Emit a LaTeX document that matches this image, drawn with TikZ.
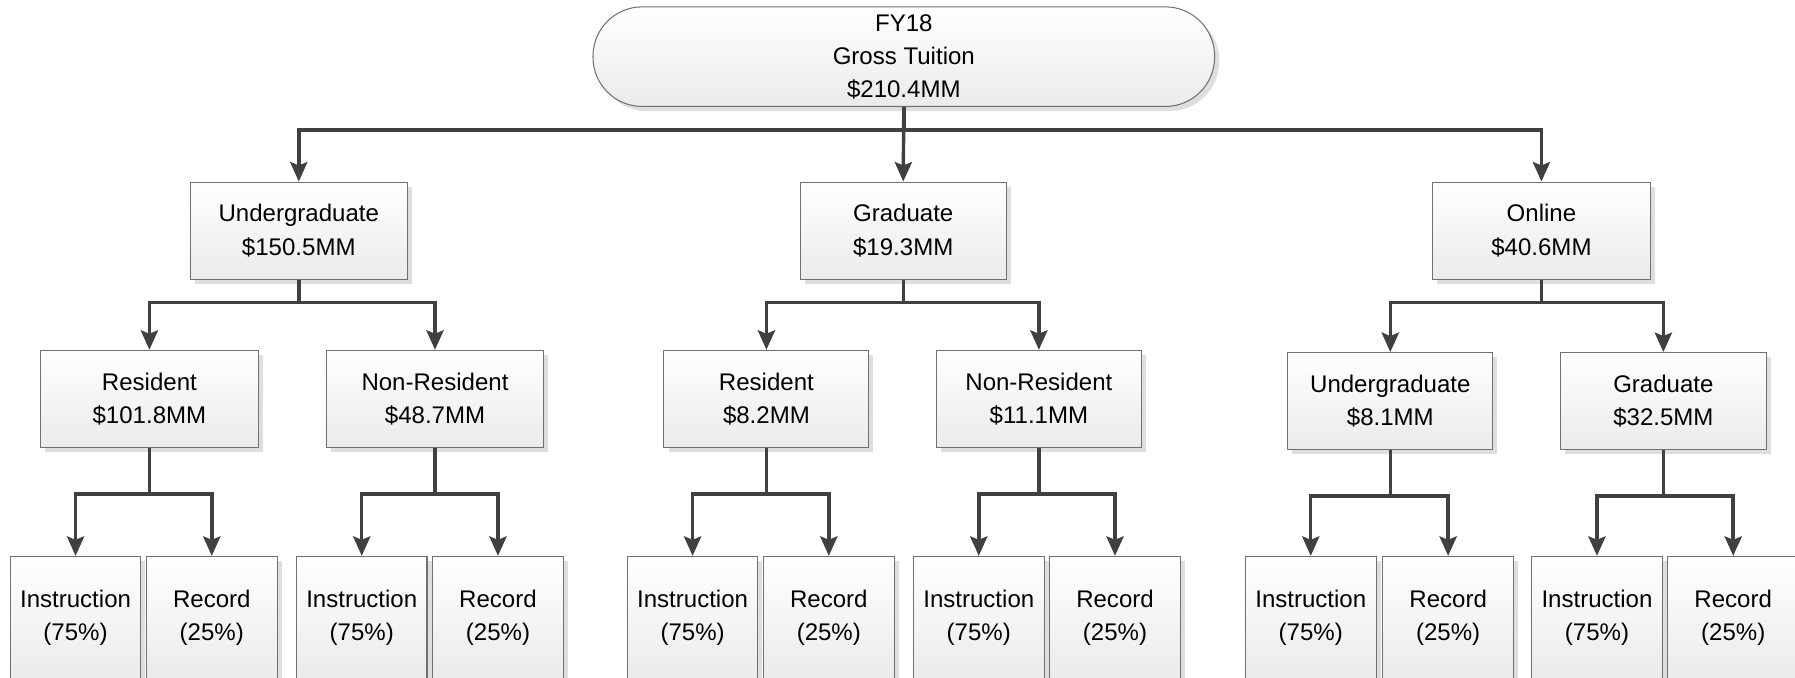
\documentclass[tikz,border=0pt]{standalone}
\usepackage{fontspec}
\setmainfont{Liberation Sans}
\usetikzlibrary{arrows.meta,shadows,calc}
\definecolor{linec}{HTML}{404040}
\definecolor{borderc}{HTML}{707070}
\tikzset{
  x=1pt,y=-1pt,
  box/.style={draw=borderc,line width=0.9pt,top color=white,bottom color=black!8,
    drop shadow={shadow xshift=4pt,shadow yshift=-4pt,fill=black!13,opacity=1},
    align=center,font=\fontsize{21}{29}\selectfont,inner sep=0pt,minimum height=85pt},
  leaf/.style={box,minimum width=114pt,minimum height=107pt},
  conn/.style={draw=linec,line width=3pt,-{Stealth[length=17pt,width=15pt,inset=3pt]},color=linec},
  plain/.style={draw=linec,line width=3pt}
}
\begin{document}
\begin{tikzpicture}
\useasboundingbox (0,0) rectangle (1568,592);
% root
\node[box,rounded corners=43pt,minimum width=543pt,minimum height=87pt] (root) at (789.5,49.5) {FY18\\Gross Tuition\\\$210.4MM};
% level 1
\node[box,minimum width=190pt] (ug) at (261,201.5) {Undergraduate\\\$150.5MM};
\node[box,minimum width=180pt] (gr) at (789,201.5) {Graduate\\\$19.3MM};
\node[box,minimum width=191pt] (on) at (1346.5,201.5) {Online\\\$40.6MM};
% level 2
\node[box,minimum width=191pt] (ugr) at (130.5,348.5) {Resident\\\$101.8MM};
\node[box,minimum width=190pt] (ugn) at (380,348.5) {Non-Resident\\\$48.7MM};
\node[box,minimum width=179pt] (grr) at (669.5,348.5) {Resident\\\$8.2MM};
\node[box,minimum width=179pt] (grn) at (907.5,348.5) {Non-Resident\\\$11.1MM};
\node[box,minimum width=179pt] (onu) at (1214.5,350.5) {Undergraduate\\\$8.1MM};
\node[box,minimum width=180pt] (ong) at (1453,350.5) {Graduate\\\$32.5MM};
% level 3
\foreach \p/\a/\b in {ugr/66/185, ugn/316/435, grr/605/724, grn/855/974, onu/1145/1265, ong/1395/1514}{
  \node[leaf] (\p i) at (\a,539.5) {Instruction\\(75\%)};
  \node[leaf] (\p r) at (\b,539.5) {Record\\(25\%)};
}
% connectors level 0 -> 1
\coordinate (b0) at ($(root.south)+(0,20)$);
\draw[conn] (root.south) -- (b0) -| (ug.north);
\draw[conn] (root.south) -- (b0) -| (on.north);
\draw[conn] (root.south) -- (gr.north);
% level 1 -> 2
\foreach \p/\c/\d in {ug/ugr/ugn, gr/grr/grn, on/onu/ong}{
  \coordinate (b\p) at ($(\p.south)+(0,20)$);
  \draw[conn] (\p.south) -- (b\p) -| (\c.north);
  \draw[conn] (\p.south) -- (b\p) -| (\d.north);
}
% level 2 -> 3
\foreach \p in {ugr,ugn,grr,grn,onu,ong}{
  \coordinate (b\p) at ($(\p.south)+(0,40)$);
  \draw[conn] (\p.south) -- (b\p) -| (\p i.north);
  \draw[conn] (\p.south) -- (b\p) -| (\p r.north);
}
\end{tikzpicture}
\end{document}
